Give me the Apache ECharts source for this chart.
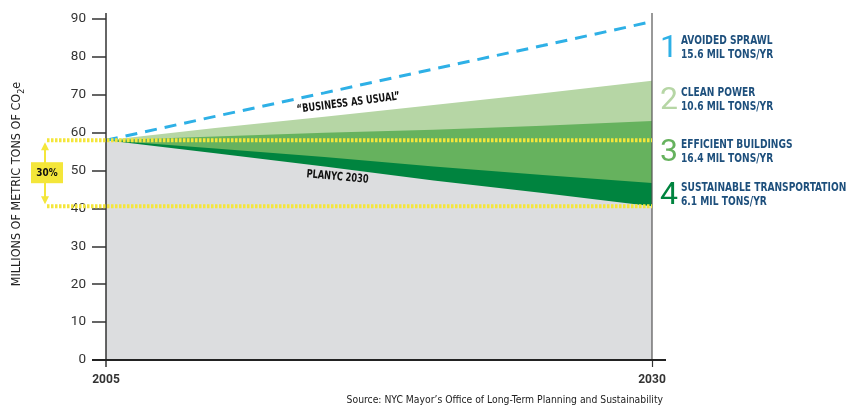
<!DOCTYPE html>
<html>
<head>
<meta charset="utf-8">
<script src="https://cdn.jsdelivr.net/npm/echarts@6/dist/echarts.min.js"></script>
<style>
  html, body { margin: 0; padding: 0; background: #fff; }
  #chart { width: 846px; height: 406px; }
</style>
</head>
<body>
<div id="chart"></div>
<script>
// NYC greenhouse-gas emissions path, 2005-2030 (millions of metric tons CO2e)
const years          = [2005, 2010, 2015, 2020, 2025, 2030];
const planyc         = [58, 54.6, 51.1, 47.4, 44.1, 40.6];   // PlaNYC 2030 target path
const transportation = [0, 1.2, 2.5, 3.7, 4.7, 6.1];         // wedge 4
const buildings      = [0, 3.2, 6.4, 9.7, 13.0, 16.4];       // wedge 3
const cleanPower     = [0, 2.2, 4.2, 6.5, 8.6, 10.6];        // wedge 2
const sprawl         = [0, 3.1, 6.3, 9.5, 12.6, 15.6];       // wedge 1 (top = business as usual)

const wedgeNumbers = ['1', '2', '3', '4'];
const wedgeNames   = ['AVOIDED SPRAWL', 'CLEAN POWER', 'EFFICIENT BUILDINGS', 'SUSTAINABLE TRANSPORTATION'];
const wedgeAmounts = [15.6, 10.6, 16.4, 6.1];
const xLabelYears  = [2005, 2030];
const baseLevel    = 58;     // 2005 emissions
const reduction    = 0.30;   // PlaNYC goal

const GRAY = '#dcdddf', DARK = '#00843f', MID = '#66b25e', LIGHT = '#b6d6a5', BLUE = '#2eb0e6';
const YELLOW = '#f4e63a', NAVY = '#1d4f7c';
const wedgeColors = [BLUE, LIGHT, MID, DARK];
const COND = '"DejaVu Sans Condensed", "Liberation Sans Narrow", sans-serif';

// running totals: each wedge sits on top of the ones below it
const addUp = (a, b) => a.map((v, i) => v + b[i]);
const lvlPlan  = planyc;
const lvlTrans = addUp(lvlPlan, transportation);
const lvlBuild = addUp(lvlTrans, buildings);
const lvlPower = addUp(lvlBuild, cleanPower);
const lvlBau   = addUp(lvlPower, sprawl);

const pairs = arr => years.map((y, i) => [y, +arr[i].toFixed(2)]);
// areas are filled down to zero; lower levels are painted over higher ones
const area = (name, arr, color, z) => ({
  name, type: 'line', data: pairs(arr), symbol: 'none', z,
  lineStyle: { width: 0, opacity: 0 }, areaStyle: { color, opacity: 1 }
});

const chart = echarts.init(document.getElementById('chart'), null, { renderer: 'canvas' });
chart.setOption({
  animation: false,
  grid: { left: 106, right: 194, top: 19, bottom: 46 },
  xAxis: {
    type: 'value', min: 2005, max: 2030, interval: 5,
    axisLine: { show: false },
    splitLine: { show: false },
    axisTick: { show: true, customValues: [2030], length: 7, lineStyle: { color: '#333', width: 1.2 } },
    axisLabel: {
      customValues: xLabelYears, margin: 14, color: '#333', formatter: v => String(v),
      fontFamily: 'Roboto, sans-serif', fontWeight: 'bold', fontSize: 12
    }
  },
  yAxis: {
    type: 'value', min: 0, max: 90, interval: 10,
    axisLine: { show: false },
    splitLine: { show: false },
    axisTick: { show: true, length: 14, lineStyle: { color: '#333', width: 1.5 } },
    axisLabel: { margin: 20, color: '#333', fontFamily: 'Roboto, sans-serif', fontSize: 13.5 }
  },
  series: [
    area('CLEAN POWER', lvlPower, LIGHT, 1),
    area('EFFICIENT BUILDINGS', lvlBuild, MID, 2),
    area('SUSTAINABLE TRANSPORTATION', lvlTrans, DARK, 3),
    area('PLANYC 2030', lvlPlan, GRAY, 4),
    {
      name: 'BUSINESS AS USUAL', type: 'line', data: pairs(lvlBau), symbol: 'none', z: 5,
      lineStyle: { color: BLUE, width: 3, type: [12, 8] }
    }
  ]
});

// Overlay: axis frame, 30% reduction guides, annotations and wedge key
const px = (x, y) => chart.convertToPixel({ gridIndex: 0 }, [x, y]);
const origin = px(2005, 0), endPt = px(2030, 0), topPt = px(2005, 90);
const yBase = px(2005, baseLevel)[1];
const yGoal = px(2005, baseLevel * (1 - reduction))[1];
const graphics = [];

// axis lines
graphics.push({ type: 'line', z: 10, shape: { x1: origin[0], y1: topPt[1] - 6, x2: origin[0], y2: origin[1] + 7 }, style: { stroke: '#333', lineWidth: 1.5 } });
graphics.push({ type: 'line', z: 10, shape: { x1: endPt[0], y1: topPt[1] - 6, x2: endPt[0], y2: origin[1] }, style: { stroke: '#555', lineWidth: 1.2 } });
graphics.push({ type: 'line', z: 11, shape: { x1: origin[0] - 14, y1: origin[1], x2: endPt[0] + 14, y2: origin[1] }, style: { stroke: '#222', lineWidth: 2.2 } });

// 30% reduction guides
[yBase, yGoal].forEach(y => graphics.push({
  type: 'line', z: 12, shape: { x1: 47, y1: y, x2: endPt[0], y2: y },
  style: { stroke: YELLOW, lineWidth: 4, lineDash: [2.5, 1.5] }
}));
const ax = 45;
graphics.push({ type: 'line', z: 12, shape: { x1: ax, y1: yBase + 4, x2: ax, y2: yGoal - 4 }, style: { stroke: YELLOW, lineWidth: 2 } });
graphics.push({ type: 'polygon', z: 12, shape: { points: [[ax, yBase + 2], [ax - 4, yBase + 10], [ax + 4, yBase + 10]] }, style: { fill: YELLOW } });
graphics.push({ type: 'polygon', z: 12, shape: { points: [[ax, yGoal - 2], [ax - 4, yGoal - 10], [ax + 4, yGoal - 10]] }, style: { fill: YELLOW } });
const yMid = (yBase + yGoal) / 2;
graphics.push({ type: 'rect', z: 13, shape: { x: 31, y: yMid - 11, width: 32, height: 21 }, style: { fill: YELLOW } });
graphics.push({ type: 'text', z: 14, x: 47, y: yMid, scaleX: 0.9, style: {
  text: Math.round(reduction * 100) + '%', fill: '#111', font: 'bold 11px ' + COND, align: 'center', verticalAlign: 'middle'
} });

// Y axis title with subscript
graphics.push({ type: 'text', z: 14, x: 17, y: 184, rotation: Math.PI / 2, style: {
  text: '{a|MILLIONS OF METRIC TONS OF CO}{s|2}{a|e}', align: 'center', verticalAlign: 'middle',
  rich: {
    a: { fontFamily: COND, fontSize: 12.5, fill: '#222', verticalAlign: 'bottom' },
    s: { fontFamily: COND, fontSize: 9, fill: '#222', verticalAlign: 'bottom', padding: [0, 0, -3, 0] }
  }
} });

// Path annotations
const bau = px(2016.1, 67.8), plan = px(2015.6, 48.3);
graphics.push({ type: 'text', z: 14, x: bau[0], y: bau[1], rotation: 0.13, scaleX: 0.8, style: {
  text: '\u201CBUSINESS AS USUAL\u201D', fill: '#111', font: 'bold 11.5px ' + COND, align: 'center', verticalAlign: 'middle'
} });
graphics.push({ type: 'text', z: 14, x: plan[0], y: plan[1], rotation: -0.09, scaleX: 0.8, style: {
  text: 'PLANYC 2030', fill: '#111', font: 'bold 11.5px ' + COND, align: 'center', verticalAlign: 'middle'
} });

// Wedge key
const keyCenters = [48, 100, 152, 195];
wedgeNames.forEach((nm, i) => {
  const yc = keyCenters[i];
  graphics.push({ type: 'text', z: 14, x: 660, y: yc + 1, style: {
    text: wedgeNumbers[i], fill: wedgeColors[i], fontFamily: 'Roboto, sans-serif', fontWeight: 'normal', fontSize: 32,
    align: 'left', verticalAlign: 'middle'
  } });
  graphics.push({ type: 'text', z: 14, x: 681, y: yc, scaleX: 0.81, style: {
    text: nm + '\n' + wedgeAmounts[i].toFixed(1) + ' MIL TONS/YR', fill: NAVY, font: 'bold 12.5px ' + COND,
    lineHeight: 14, align: 'left', verticalAlign: 'middle'
  } });
});

// Source line
graphics.push({ type: 'text', z: 14, x: 663, y: 400, style: {
  text: 'Source: NYC Mayor\u2019s Office of Long-Term Planning and Sustainability', fill: '#222',
  font: '10.3px ' + COND, align: 'right', verticalAlign: 'middle'
} });

chart.setOption({ graphic: graphics });
</script>
</body>
</html>
